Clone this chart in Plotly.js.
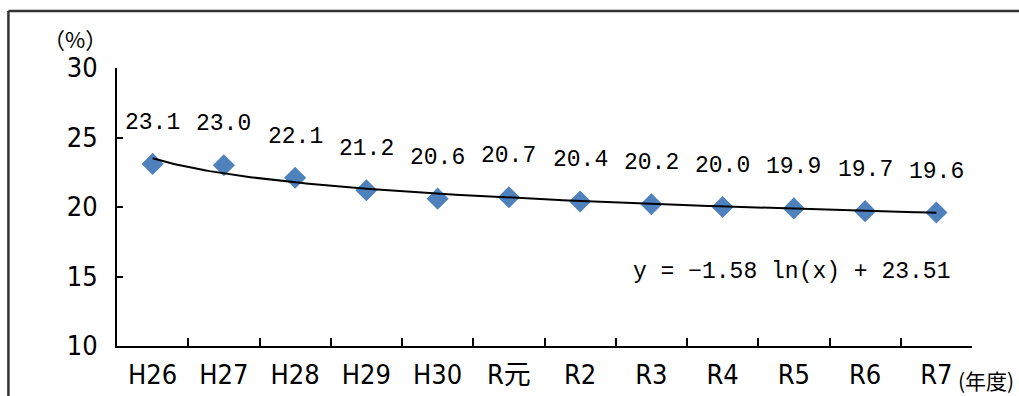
<!DOCTYPE html>
<html>
<head>
<meta charset="utf-8">
<script src="https://cdn.plot.ly/plotly-3.0.1.min.js"></script>
<style>html,body{margin:0;padding:0;background:#fff;} #chart{width:1019px;height:396px;}</style>
</head>
<body>
<div id="chart"></div>
<script>
const categories = ["H26","H27","H28","H29","H30","R元","R2","R3","R4","R5","R6","R7"];
const values = [23.1,23.0,22.1,21.2,20.6,20.7,20.4,20.2,20.0,19.9,19.7,19.6];
const labels = ["23.1","23.0","22.1","21.2","20.6","20.7","20.4","20.2","20.0","19.9","19.7","19.6"];
const yTicks = [10,15,20,25,30];
const trendA = -1.58;
const trendB = 23.51;
const equationText = "y = −1.58 ln(x) + 23.51";
const yUnit = "（%）";
const xUnit = "(年度)";

const tickFont = {family: "'Liberation Sans Narrow','DejaVu Sans Condensed','Noto Sans CJK JP',sans-serif", size: 27, color: "#000"};
const labelFont = {family: "'Liberation Mono','DejaVu Sans Mono',monospace", size: 23, color: "#000"};
const unitFont = {family: "'Noto Sans CJK JP','Noto Sans CJK SC',sans-serif", size: 22, color: "#000"};
const xUnitFont = {family: "'Noto Sans CJK JP','Noto Sans CJK SC',sans-serif", size: 21, color: "#000"};

const trendX = [], trendY = [];
for (let i = 0; i <= 220; i++) {
  const x = 1 + 11 * i / 220;
  trendX.push(x);
  trendY.push(trendA * Math.log(x) + trendB);
}

const traces = [
  {x: trendX, y: trendY, xaxis: "x2", yaxis: "y", mode: "lines", line: {color: "#000", width: 2}, hoverinfo: "skip"},
  {x: categories, y: values, type: "scatter", mode: "markers", marker: {symbol: "diamond", size: 17, color: "#4F81BD"}}
];

const annotations = categories.map((c, i) => ({
  x: c, y: values[i], xref: "x", yref: "y", text: labels[i], showarrow: false,
  yshift: 41, font: labelFont, xanchor: "center", yanchor: "middle"
}));
annotations.push({x: 0.789, y: 0.266, xref: "paper", yref: "paper", text: equationText, showarrow: false, font: labelFont, xanchor: "center", yanchor: "middle"});
annotations.push({x: -0.049, y: 1.108, xref: "paper", yref: "paper", text: yUnit, showarrow: false, font: unitFont, xanchor: "center", yanchor: "middle"});
annotations.push({x: 1.0164, y: -0.122, xref: "paper", yref: "paper", text: xUnit, showarrow: false, font: xUnitFont, xanchor: "center", yanchor: "middle"});

const layout = {
  width: 1019, height: 396,
  margin: {l: 117, r: 47, t: 68, b: 50},
  paper_bgcolor: "#fff", plot_bgcolor: "#fff",
  showlegend: false,
  xaxis: {type: "category", range: [-0.5, 11.5], showline: true, linecolor: "#000", linewidth: 2,
    ticks: "inside", tickson: "boundaries", ticklen: 8, tickwidth: 2, tickcolor: "#000",
    showgrid: false, zeroline: false, tickfont: tickFont, ticklabelstandoff: 4, fixedrange: true},
  xaxis2: {overlaying: "x", range: [0.5, 12.5], visible: false, fixedrange: true},
  yaxis: {range: [10, 30], tickvals: yTicks, showline: true, linecolor: "#000", linewidth: 2,
    ticks: "inside", ticklen: 6, tickwidth: 2, tickcolor: "#000", showgrid: false, zeroline: false,
    tickfont: tickFont, ticklabelstandoff: 12, fixedrange: true},
  annotations: annotations,
  shapes: [
    {type: "line", xref: "paper", yref: "paper", x0: -0.127, x1: 1.1, y0: 1.205, y1: 1.205, line: {color: "#333", width: 2.5}},
    {type: "line", xref: "paper", yref: "paper", x0: -0.127, x1: -0.127, y0: 1.205, y1: -0.3, line: {color: "#333", width: 2.5}}
  ]
};

Plotly.newPlot("chart", traces, layout, {displayModeBar: false, staticPlot: true});
</script>
</body>
</html>
